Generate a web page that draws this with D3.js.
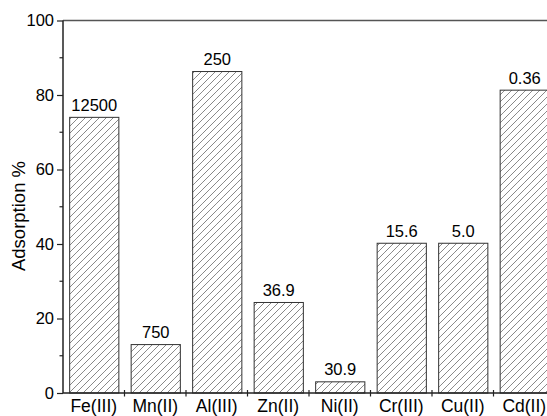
<!DOCTYPE html>
<html><head><meta charset="utf-8">
<script src="https://cdn.jsdelivr.net/npm/d3@7"></script>
<style>body{margin:0;background:#fff;}svg{display:block;font-family:"Liberation Sans",Arial,sans-serif;}</style>
</head><body>
<svg id="c" width="547" height="416"></svg>
<script>
const categories = ["Fe(III)","Mn(II)","Al(III)","Zn(II)","Ni(II)","Cr(III)","Cu(II)","Cd(II)"];
const adsorption = [74, 13, 86.3, 24.3, 3, 40.2, 40.2, 81.3];
const barLabels = ["12500","750","250","36.9","30.9","15.6","5.0","0.36"];
const yTicks = [0,20,40,60,80,100];
const yMinorTicks = [10,30,50,70,90];

const svg = d3.select("#c");
const mLeft = 63, mTop = 20.5, mBottom = 393, step = 61.5;
const x = d3.scaleBand().domain(categories).range([mLeft, mLeft + step*categories.length]).paddingInner(0.2).paddingOuter(0.1);
const y = d3.scaleLinear().domain([0,100]).range([mBottom, mTop]);

const defs = svg.append("defs");
const pat = defs.append("pattern").attr("id","hatch").attr("patternUnits","userSpaceOnUse")
  .attr("width",7).attr("height",7);
pat.append("path").attr("d","M-1,1 l2,-2 M0,7 l7,-7 M6,8 l2,-2")
  .attr("stroke","#555").attr("stroke-width",1).attr("stroke-dasharray","1,0.5");

// bars
svg.append("g").selectAll("rect").data(categories).join("rect")
  .attr("x", d => x(d)+0.5)
  .attr("y", (d,i) => y(adsorption[i]))
  .attr("width", x.bandwidth())
  .attr("height", (d,i) => mBottom - y(adsorption[i]))
  .attr("fill","url(#hatch)").attr("stroke","#333").attr("stroke-width",1);

// value labels
svg.append("g").selectAll("text").data(categories).join("text")
  .attr("x", d => x(d) + x.bandwidth()/2 + 0.5)
  .attr("y", (d,i) => y(adsorption[i]) - 6.5)
  .attr("text-anchor","middle").attr("font-size",16.5).attr("fill","#000")
  .text((d,i) => barLabels[i]);

// top frame line
svg.append("line").attr("x1",mLeft).attr("x2",547).attr("y1",mTop).attr("y2",mTop)
  .attr("stroke","#555").attr("stroke-width",1.5);

// y axis
const yAxis = svg.append("g").attr("transform",`translate(${mLeft},0)`)
  .call(d3.axisLeft(y).tickValues(yTicks).tickSize(6).tickPadding(3).tickFormat(d3.format("d")));
yAxis.select(".domain").attr("stroke","#222").attr("stroke-width",1.5).attr("d",`M0,${mBottom}V${mTop}`);
yAxis.selectAll(".tick line").attr("stroke","#222").attr("stroke-width",1.2);
yAxis.selectAll("text").attr("font-size",16.5).attr("fill","#000").attr("font-family","Liberation Sans, Arial, sans-serif");
svg.append("g").attr("transform",`translate(${mLeft},0)`).selectAll("line").data(yMinorTicks).join("line")
  .attr("x1",-3.5).attr("x2",0).attr("y1",d=>y(d)).attr("y2",d=>y(d)).attr("stroke","#222").attr("stroke-width",1.2);

// x axis
const xAxis = svg.append("g").attr("transform",`translate(0,${mBottom})`)
  .call(d3.axisBottom(x).tickSize(0).tickPadding(6.5));
xAxis.select(".domain").attr("stroke","#222").attr("stroke-width",1.5).attr("d",`M${mLeft},0H547`);
xAxis.selectAll("text").attr("font-size",17.5).attr("fill","#000").attr("font-family","Liberation Sans, Arial, sans-serif");
// between-category ticks
const sepTicks = categories.slice(1).map(c => x(c) - x.step()*x.paddingInner()/2);
svg.append("g").selectAll("line").data(sepTicks).join("line")
  .attr("x1",d=>d).attr("x2",d=>d).attr("y1",mBottom-3).attr("y2",mBottom+3.5)
  .attr("stroke","#222").attr("stroke-width",1.2);

// y label
svg.append("text").attr("transform","translate(25,216) rotate(-90)")
  .attr("text-anchor","middle").attr("font-size",18.5).attr("fill","#000").text("Adsorption %");
</script>
</body></html>
